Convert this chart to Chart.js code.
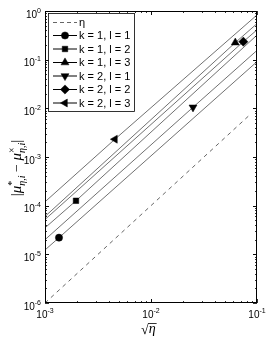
<!DOCTYPE html>
<html>
<head>
<meta charset="utf-8">
<script src="https://cdn.jsdelivr.net/npm/chart.js@4.4.1/dist/chart.umd.min.js"></script>
<style>
  html, body { margin: 0; padding: 0; background: #fff; }
  #wrap { width: 266px; height: 341px; }
</style>
</head>
<body>
<div id="wrap"><canvas id="chart"></canvas></div>
<script>
// values (log-log axes)
const seriesLabels = ["k = 1, l = 1", "k = 1, l = 2", "k = 1, l = 3", "k = 2, l = 1", "k = 2, l = 2", "k = 2, l = 3"];
const markerX = [1.355e-3, 1.96e-3, 0.0624, 0.0249, 0.0743, 4.57e-3];
const markerY = [2.2e-5, 1.26e-4, 0.224, 0.0105, 0.234, 2.32e-3];
const lineStartY = [1.23e-5, 3.5e-5, 6.0e-5, 2.0e-5, 5.2e-5, 1.2e-4]; // at x = 1e-3
const lineEndY = [0.091, 0.32, 0.55, 0.155, 0.41, 0.83];              // at x = 1e-1
const xStart = 1e-3, xEnd = 1e-1;
const markerStyle = ["circle", "rect", "triangle", "triangle", "rectRot", "triangle"];
const markerRotation = [0, 0, 0, 180, 0, 270];
const markerSize = [3.6, 3.9, 4.6, 4.6, 4.6, 4.6];

const etaX = [1e-3, 0.087];
const etaY = [1e-6, 0.0076];

const xTicks = [1e-3, 1e-2, 1e-1];
const xTickExp = ["-3", "-2", "-1"];
const yTicks = [1e0, 1e-1, 1e-2, 1e-3, 1e-4, 1e-5, 1e-6];
const yTickExp = ["0", "-1", "-2", "-3", "-4", "-5", "-6"];

const SANS = "'Liberation Sans', Arial, sans-serif";
const SERIF = "'Liberation Serif', 'DejaVu Serif', serif";

let datasets = [{
  label: "η",
  data: etaX.map((x, i) => ({ x: x, y: etaY[i] })),
  borderColor: "#555",
  borderWidth: 0.9,
  borderDash: [4, 4],
  pointRadius: 0,
  showLine: true,
}];
seriesLabels.forEach((name, i) => {
  datasets.push({
    label: name,
    data: [
      { x: xStart, y: lineStartY[i] },
      { x: markerX[i], y: markerY[i] },
      { x: xEnd, y: lineEndY[i] },
    ],
    borderColor: "#333",
    borderWidth: 0.7,
    backgroundColor: "#000",
    pointBackgroundColor: "#000",
    pointBorderColor: "#000",
    pointBorderWidth: 0.5,
    pointStyle: markerStyle[i],
    rotation: markerRotation[i],
    pointRadius: [0, markerSize[i], 0],
    showLine: true,
  });
});

// draws a list of text pieces one after another; "stack" puts a piece under the previous one
function drawPieces(ctx, pieces, x, y, align) {
  let widths = [];
  let total = 0;
  let prevW = 0;
  pieces.forEach((p) => {
    ctx.font = p.font;
    let w = ctx.measureText(p.t).width;
    widths.push(w);
    if (p.stack) {
      if (w > prevW) total += w - prevW;
      prevW = Math.max(w, prevW);
    } else {
      total += w;
      prevW = w;
    }
  });
  let cx = align === "center" ? x - total / 2 : align === "right" ? x - total : x;
  let startPrev = cx;
  pieces.forEach((p, i) => {
    ctx.font = p.font;
    let px = cx;
    if (p.stack) {
      px = startPrev;
      cx = Math.max(cx, startPrev + widths[i]);
    } else {
      startPrev = cx;
      cx += widths[i];
    }
    ctx.fillText(p.t, px, y + (p.dy || 0));
  });
  return total;
}

function drawMarker(ctx, i, x, y) {
  if (Chart.helpers && Chart.helpers.drawPoint) {
    ctx.fillStyle = "#000";
    ctx.strokeStyle = "#000";
    ctx.lineWidth = 0.5;
    Chart.helpers.drawPoint(ctx, {
      pointStyle: markerStyle[i],
      rotation: markerRotation[i],
      radius: markerSize[i],
      borderWidth: 0.5,
    }, x, y);
  }
}

const axesPlugin = {
  id: "matlabAxes",
  afterDraw(chart) {
    const ctx = chart.ctx;
    const a = chart.chartArea;
    const xs = chart.scales.x;
    const ys = chart.scales.y;
    ctx.save();
    ctx.strokeStyle = "#000";
    ctx.lineWidth = 1;
    ctx.strokeRect(Math.round(a.left) + 0.5, Math.round(a.top) + 0.5,
      Math.round(a.right - a.left) - 1, Math.round(a.bottom - a.top) - 1);

    // inward ticks on all four sides
    ctx.lineWidth = 0.8;
    ctx.beginPath();
    for (let d = -3; d < -1; d++) {
      for (let m = 1; m <= 10; m++) {
        let v = m * Math.pow(10, d);
        let px = Math.round(xs.getPixelForValue(v)) + 0.5;
        let len = (m === 1 || m === 10) ? 4 : 2;
        ctx.moveTo(px, a.bottom); ctx.lineTo(px, a.bottom - len);
        ctx.moveTo(px, a.top); ctx.lineTo(px, a.top + len);
      }
    }
    for (let d = -6; d < 0; d++) {
      for (let m = 1; m <= 10; m++) {
        let v = m * Math.pow(10, d);
        let py = Math.round(ys.getPixelForValue(v)) + 0.5;
        let len = (m === 1 || m === 10) ? 4 : 2;
        ctx.moveTo(a.left, py); ctx.lineTo(a.left + len, py);
        ctx.moveTo(a.right, py); ctx.lineTo(a.right - len, py);
      }
    }
    ctx.stroke();

    // tick labels
    ctx.fillStyle = "#000";
    ctx.textBaseline = "alphabetic";
    xTicks.forEach((v, i) => {
      let px = xs.getPixelForValue(v);
      drawPieces(ctx, [
        { t: "10", font: "10px " + SANS, dy: 0 },
        { t: xTickExp[i], font: "7px " + SANS, dy: -5 },
      ], px, a.bottom + 15, "center");
    });
    yTicks.forEach((v, i) => {
      let py = ys.getPixelForValue(v);
      drawPieces(ctx, [
        { t: "10", font: "10px " + SANS, dy: 0 },
        { t: yTickExp[i], font: "7px " + SANS, dy: -5 },
      ], a.left - 4, py + 6.5, "right");
    });

    // x title: sqrt(eta)
    ctx.font = "14px " + SERIF;
    let sx = 141;
    let sy = 334;
    ctx.fillText("√", sx, sy);
    let rw = ctx.measureText("√").width;
    ctx.font = "italic 14px " + SERIF;
    ctx.fillText("η", sx + rw, sy - 1);
    let ew = ctx.measureText("η").width;
    ctx.lineWidth = 0.8;
    ctx.beginPath();
    ctx.moveTo(sx + rw - 0.5, 323.5);
    ctx.lineTo(sx + rw + ew + 1, 323.5);
    ctx.stroke();

    // y title
    ctx.save();
    ctx.translate(21, 168);
    ctx.rotate(-Math.PI / 2);
    drawPieces(ctx, [
      { t: "|", font: "15px " + SERIF },
      { t: "μ", font: "italic 15px " + SERIF },
      { t: "*", font: "10px " + SERIF, dy: -6 },
      { t: "η,i", font: "italic 10px " + SERIF, dy: 4, stack: true },
      { t: " − ", font: "14px " + SERIF },
      { t: "μ", font: "italic 15px " + SERIF },
      { t: "×", font: "10px " + SERIF, dy: -6 },
      { t: "η,i", font: "italic 10px " + SERIF, dy: 4, stack: true },
      { t: "|", font: "15px " + SERIF },
    ], 0, 0, "center");
    ctx.restore();

    // legend box inside the axes
    const lx = 48.5, ly = 13.5, lw = 86, lh = 98;
    ctx.fillStyle = "#fff";
    ctx.fillRect(lx, ly, lw, lh);
    ctx.strokeStyle = "#000";
    ctx.lineWidth = 0.8;
    ctx.strokeRect(lx, ly, lw, lh);
    ctx.font = "11px " + SANS;
    ctx.textBaseline = "middle";

    const rowY = [22.5, 35.5, 49, 62.5, 76, 89.5, 103];
    chart.data.datasets.forEach((ds, i) => {
      let y = rowY[i];
      ctx.save();
      ctx.strokeStyle = i === 0 ? "#555" : "#000";
      ctx.lineWidth = i === 0 ? 0.9 : 1;
      ctx.setLineDash(i === 0 ? [4, 3] : []);
      ctx.beginPath();
      ctx.moveTo(53, y);
      ctx.lineTo(77, y);
      ctx.stroke();
      ctx.restore();
      if (i > 0) drawMarker(ctx, i - 1, 65, y);
      ctx.fillStyle = "#000";
      ctx.font = "11px " + SANS;
      ctx.fillText(ds.label, 79, y + 0.5);
    });
    ctx.restore();
  },
};

new Chart(document.getElementById("chart"), {
  type: "scatter",
  data: { datasets: datasets },
  options: {
    responsive: true,
    maintainAspectRatio: false,
    animation: false,
    devicePixelRatio: 1,
    layout: { padding: { left: 45, right: 9, top: 11, bottom: 38 } },
    plugins: {
      legend: { display: false },
      tooltip: { enabled: false },
    },
    scales: {
      x: { type: "logarithmic", min: 1e-3, max: 1e-1, display: false },
      y: { type: "logarithmic", min: 1e-6, max: 1, display: false },
    },
  },
  plugins: [axesPlugin],
});
</script>
</body>
</html>
